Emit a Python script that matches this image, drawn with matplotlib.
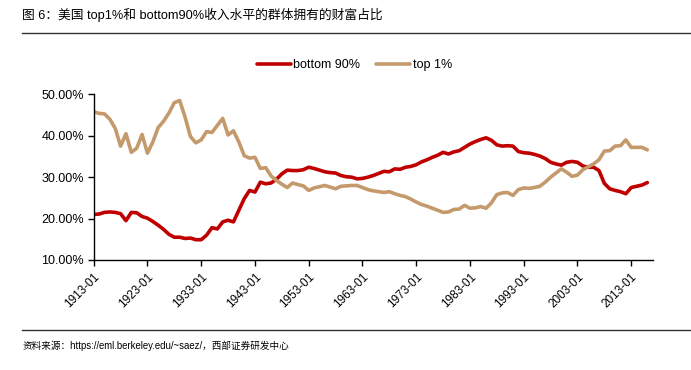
import matplotlib
matplotlib.use("Agg")
import matplotlib.pyplot as plt
import numpy as np

plt.rcParams['font.family'] = ['Liberation Sans', 'Noto Sans CJK SC', 'DejaVu Sans']

years = list(range(1913, 2017))

top1 = [45.8, 45.4, 45.3, 44.0, 41.8, 37.5, 40.5, 36.0, 37.0, 40.3,
        35.8, 38.5, 42.0, 43.5, 45.5, 48.0, 48.5, 44.5, 39.8, 38.3,
        39.0, 41.0, 40.8, 42.5, 44.2, 40.2, 41.2, 38.5, 35.2, 34.6,
        34.8, 32.1, 32.3, 30.3, 29.2, 28.3, 27.5, 28.6, 28.2, 27.9,
        26.8, 27.4, 27.7, 28.0, 27.6, 27.2, 27.8, 27.9, 28.0, 28.0,
        27.5, 27.0, 26.7, 26.5, 26.3, 26.5, 26.0, 25.6, 25.3, 24.7,
        24.0, 23.4, 23.0, 22.5, 22.0, 21.5, 21.6, 22.2, 22.3, 23.2,
        22.5, 22.6, 22.9, 22.5, 23.8, 25.8, 26.2, 26.3, 25.6, 27.0,
        27.4, 27.3, 27.5, 27.8, 28.8, 30.0, 31.0, 32.0, 31.2, 30.2,
        30.5, 31.8, 32.5, 33.2, 34.2, 36.3, 36.4, 37.5, 37.6, 39.0,
        37.2, 37.2, 37.2, 36.6]

bottom90 = [21.0, 21.1, 21.5, 21.6, 21.5, 21.2, 19.5, 21.5, 21.4, 20.5,
            20.1, 19.3, 18.4, 17.4, 16.2, 15.5, 15.5, 15.2, 15.3, 14.9,
            14.9, 16.0, 17.8, 17.5, 19.2, 19.6, 19.2, 22.0, 24.8, 26.8,
            26.4, 28.8, 28.4, 28.6, 29.5, 30.8, 31.7, 31.6, 31.6, 31.8,
            32.4, 32.1, 31.7, 31.3, 31.1, 31.0, 30.4, 30.1, 30.0, 29.6,
            29.7, 30.0, 30.4, 30.9, 31.4, 31.3, 32.0, 31.9, 32.4, 32.6,
            33.0, 33.7, 34.2, 34.8, 35.3, 36.0, 35.6, 36.1, 36.4, 37.2,
            38.0, 38.6, 39.1, 39.5, 38.9, 37.8, 37.5, 37.6, 37.5, 36.2,
            35.9, 35.8, 35.5, 35.1, 34.5, 33.6, 33.2, 32.9, 33.6, 33.8,
            33.6, 32.7, 32.4, 32.4, 31.6, 28.5, 27.2, 26.8, 26.5, 26.0,
            27.5, 27.8, 28.1, 28.7]

tick_years = list(range(1913, 2014, 10))
tick_labels = [f"{y}-01" for y in tick_years]
y_ticks = [10, 20, 30, 40, 50]

title = "图 6：美国 top1%和 bottom90%收入水平的群体拥有的财富占比"
source = "资料来源：https://eml.berkeley.edu/~saez/，西部证券研发中心"

red = "#C00000"
tan = "#C49A6C"

fig = plt.figure(figsize=(6.91, 3.70), dpi=100)
ax = fig.add_axes([0.1356, 0.2973, 0.809, 0.4477])

ax.plot(years, bottom90, color=red, lw=2.6, label="bottom 90%", solid_capstyle='round')
ax.plot(years, top1, color=tan, lw=2.6, label="top 1%", solid_capstyle='round')

ax.set_xlim(1913, 2017)
ax.set_ylim(10, 50)
ax.set_yticks(y_ticks)
ax.set_yticklabels([f"{v:.2f}%" for v in y_ticks], fontsize=9)
ax.set_xticks(tick_years)
ax.set_xticklabels(tick_labels, rotation=45, ha='right', rotation_mode='anchor', fontsize=8.5)

for s in ['top', 'right']:
    ax.spines[s].set_visible(False)
for s in ['left', 'bottom']:
    ax.spines[s].set_color('black')
    ax.spines[s].set_linewidth(1.0)
ax.tick_params(axis='both', direction='out', length=4, width=1, colors='black', pad=3)
ax.tick_params(axis='x', pad=4)

leg = fig.legend(loc='center', bbox_to_anchor=(0.513, 0.823), ncol=2, frameon=False,
                 fontsize=9, handlelength=2.7, handletextpad=0.2, columnspacing=1.3)

fig.text(0.032, 0.959, title, fontsize=9.2, va='center', ha='left')
fig.add_artist(plt.Line2D([0.032, 1.0], [0.91, 0.91], color='#333333', lw=1.0, transform=fig.transFigure))
fig.add_artist(plt.Line2D([0.032, 1.0], [0.108, 0.108], color='#333333', lw=1.0, transform=fig.transFigure))
fig.text(0.032, 0.065, source, fontsize=6.9, va='center', ha='left')

fig.savefig("out.png", dpi=100)
